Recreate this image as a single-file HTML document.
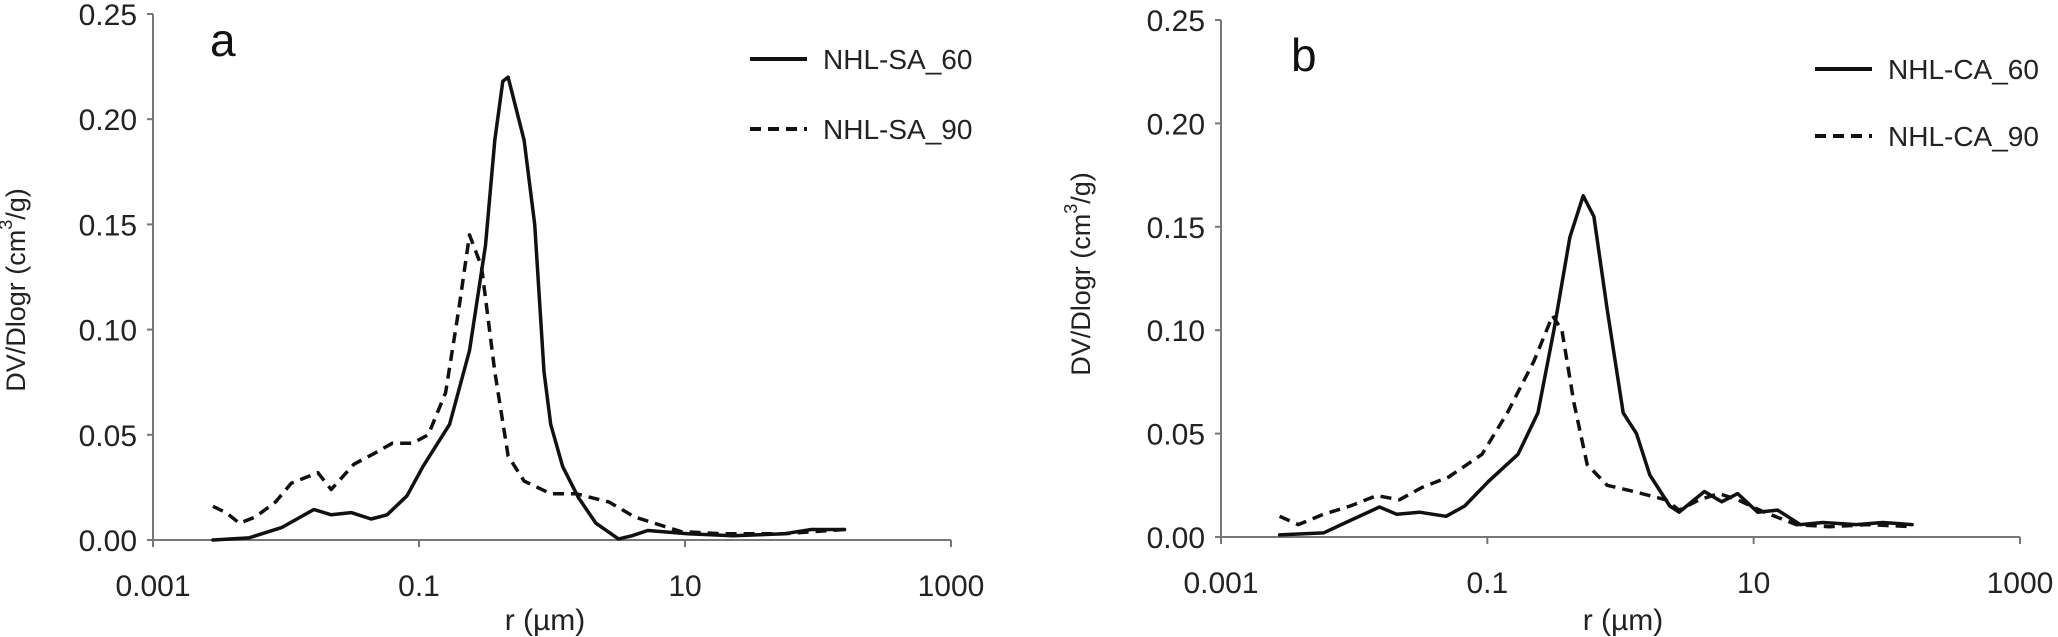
<!DOCTYPE html>
<html><head><meta charset="utf-8"><style>
html,body{margin:0;padding:0;background:#fff;}
svg{display:block;font-family:"Liberation Sans",Arial,sans-serif;}
</style></head><body>
<svg id="chart" width="2058" height="637" viewBox="0 0 2058 637"></svg>
<script>
const xTickLabels = ["0.001","0.1","10","1000"];
const xTickLogs = [-3,-1,1,3];
const yTickLabels = ["0.00","0.05","0.10","0.15","0.20","0.25"];
const yTickValues = [0,0.05,0.10,0.15,0.20,0.25];

const saLogR = [-2.55,-2.28,-2.03,-1.79,-1.66,-1.51,-1.36,-1.24,-1.09,-0.97,-0.77,-0.62,-0.5,-0.43,-0.37,-0.33,-0.21,-0.13,-0.06,-0.01,0.08,0.2,0.33,0.5,0.6,0.72,1.02,1.36,1.75,1.95,2.2];
const sa60 = [0,0.001,0.006,0.0145,0.012,0.013,0.010,0.012,0.021,0.035,0.055,0.09,0.14,0.19,0.218,0.22,0.19,0.15,0.08,0.055,0.035,0.02,0.008,0.0005,0.002,0.0045,0.003,0.002,0.003,0.005,0.005];
const sa90LogR = [-2.55,-2.45,-2.35,-2.23,-2.08,-1.96,-1.76,-1.66,-1.49,-1.34,-1.2,-1.05,-0.93,-0.8,-0.7,-0.62,-0.53,-0.43,-0.33,-0.21,-0.01,0.18,0.43,0.62,0.77,0.97,1.27,1.75,2.2];
const sa90 = [0.016,0.013,0.008,0.011,0.018,0.027,0.032,0.024,0.036,0.041,0.046,0.046,0.05,0.07,0.11,0.145,0.13,0.08,0.04,0.028,0.022,0.022,0.018,0.011,0.008,0.004,0.003,0.003,0.005];

const caLogR = [-2.56,-2.23,-2.03,-1.81,-1.68,-1.51,-1.31,-1.17,-0.99,-0.77,-0.62,-0.5,-0.38,-0.28,-0.2,-0.1,0.02,0.12,0.22,0.37,0.44,0.63,0.76,0.88,1.03,1.18,1.35,1.52,1.77,1.97,2.19];
const ca60 = [0.001,0.002,0.008,0.0145,0.011,0.012,0.010,0.015,0.027,0.04,0.06,0.10,0.145,0.165,0.155,0.11,0.06,0.05,0.03,0.015,0.012,0.022,0.017,0.021,0.012,0.013,0.006,0.007,0.006,0.007,0.006];
const ca90LogR = [-2.56,-2.42,-2.23,-2.03,-1.83,-1.66,-1.49,-1.29,-1.04,-0.85,-0.65,-0.51,-0.44,-0.35,-0.25,-0.1,0.1,0.34,0.44,0.59,0.74,0.88,1.08,1.32,1.57,1.86,2.19];
const ca90 = [0.01,0.006,0.011,0.015,0.020,0.018,0.024,0.029,0.04,0.06,0.085,0.107,0.10,0.065,0.035,0.025,0.022,0.018,0.013,0.018,0.021,0.018,0.012,0.006,0.005,0.006,0.005];

const NS="http://www.w3.org/2000/svg";
const svg=document.getElementById('chart');
function mk(tag,attrs,parent){const e=document.createElementNS(NS,tag);for(const k in attrs)e.setAttribute(k,attrs[k]);(parent||svg).appendChild(e);return e;}

const panels=[
 {id:'a',x0:153,x1:951,y0:540,y1:14,label:'a',lx:210,ly:56,legX:750,legY1:59,legY2:129,titleX:16,titleY:290,xtX:545,
  series:[{x:saLogR,y:sa60,name:'NHL-SA_60',dash:null},{x:sa90LogR,y:sa90,name:'NHL-SA_90',dash:'11,7'}]},
 {id:'b',x0:1221,x1:2020,y0:537,y1:20,label:'b',lx:1291,ly:71,legX:1815,legY1:69,legY2:136,titleX:1081,titleY:274,xtX:1623,
  series:[{x:caLogR,y:ca60,name:'NHL-CA_60',dash:null},{x:ca90LogR,y:ca90,name:'NHL-CA_90',dash:'11,7'}]}
];

panels.forEach(p=>{
  const g=mk('g',{});
  
  
  const xs=v=>p.x0+(v+3)/6*(p.x1-p.x0);
  const ys=v=>p.y0-v/0.25*(p.y0-p.y1);
  const ya=mk('line',{x1:p.x0,y1:p.y1,x2:p.x0,y2:p.y0,stroke:'#777','stroke-width':2},g);
  
  
  const xa=mk('line',{x1:p.x0,y1:p.y0,x2:p.x1,y2:p.y0,stroke:'#777','stroke-width':2},g);
  
  
  yTickValues.forEach((v,i)=>{
    mk('line',{x1:p.x0-6,y1:ys(v),x2:p.x0,y2:ys(v),stroke:'#777','stroke-width':2},g);
    const t=mk('text',{x:p.x0-16,y:ys(v)+11,'text-anchor':'end','font-size':30,fill:'#222'},g);
    t.textContent=yTickLabels[i];
    
    
  });
  xTickLogs.forEach((v,i)=>{
    mk('line',{x1:xs(v),y1:p.y0,x2:xs(v),y2:p.y0+7,stroke:'#777','stroke-width':2},g);
    const t=mk('text',{x:xs(v),y:p.y0+56,'text-anchor':'middle','font-size':30,fill:'#222'},g);
    t.textContent=xTickLabels[i];
    
    
  });
  const yt=mk('text',{x:p.titleX,y:p.titleY,'text-anchor':'middle','dominant-baseline':'central','font-size':27,fill:'#222',transform:`rotate(-90 ${p.titleX} ${p.titleY})`},g);
  yt.innerHTML='DV/Dlogr (cm<tspan font-size="18" dy="-10">3</tspan><tspan dy="10">/g)</tspan>';
  
  
  const xt=mk('text',{x:p.xtX,y:630,'text-anchor':'middle','font-size':30,fill:'#222'},g);
  xt.textContent='r (µm)';
  
  
  const pl=mk('text',{x:p.lx,y:p.ly,'font-size':46,fill:'#111'},g);
  pl.textContent=p.label;
  
  
  p.series.forEach((s,si)=>{
    const pts=s.x.map((v,i)=>xs(v).toFixed(1)+','+ys(s.y[i]).toFixed(1)).join(' ');
    const a={points:pts,fill:'none',stroke:'#111','stroke-width':3.5,'stroke-linejoin':'round','stroke-linecap':'round'};
    if(s.dash){a['stroke-dasharray']=s.dash;a['stroke-linecap']='butt';}
    const line=mk('polyline',a,g);
    
    
    const ly=si===0?p.legY1:p.legY2;
    const le=mk('g',{},g);
    
    
    const la={x1:p.legX,y1:ly,x2:p.legX+57,y2:ly,stroke:'#111','stroke-width':4};
    if(s.dash)la['stroke-dasharray']='11,7';
    mk('line',la,le);
    const lt=mk('text',{x:p.legX+73,y:ly+10,'font-size':28,fill:'#222'},le);
    lt.textContent=s.name;
  });
});
</script>
</body></html>
